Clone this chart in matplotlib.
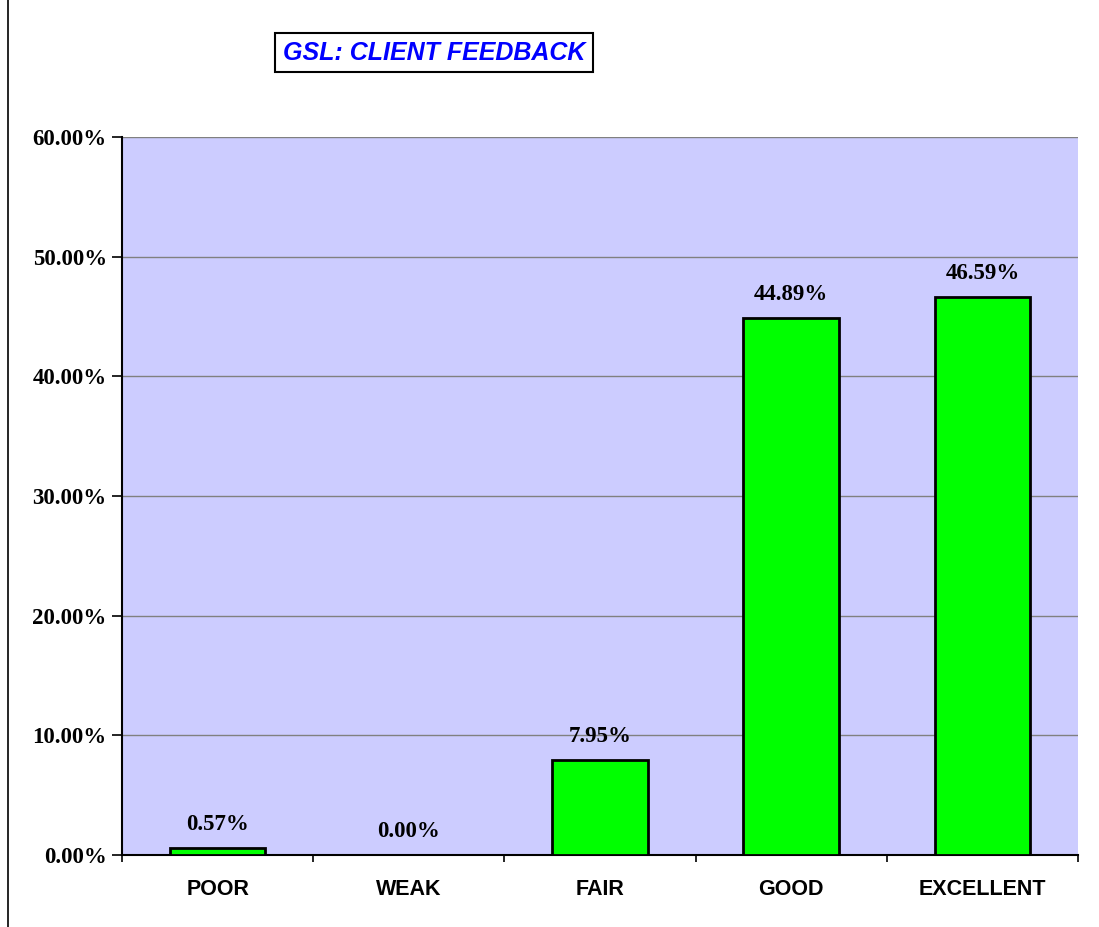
import numpy as np
import matplotlib.pyplot as plt
from matplotlib.ticker import FixedLocator

categories = ['POOR', 'WEAK', 'FAIR', 'GOOD', 'EXCELLENT']
values = [0.57, 0.00, 7.95, 44.89, 46.59]
yticks = [0, 10, 20, 30, 40, 50, 60]

fig = plt.figure(figsize=(10.99, 9.27), dpi=100)
ax = fig.add_axes([0.111, 0.0777, 0.870, 0.7745])
ax.set_facecolor('#CCCCFF')

x = np.arange(len(categories))
ax.bar(x, values, width=0.5, color='#00FF00', edgecolor='black', linewidth=2, zorder=3)

for xi, v in zip(x, values):
    ax.text(xi, v + 1.1, '%.2f%%' % v, ha='center', va='bottom',
            fontsize=16.5, fontweight='bold', family='Liberation Serif', zorder=4)

ax.set_xlim(-0.5, len(categories) - 0.5)
ax.set_ylim(0, 60)
ax.set_yticks(yticks)
ax.set_yticklabels(['%.2f%%' % t for t in yticks], fontsize=16.5,
                   fontweight='bold', family='Liberation Serif')
ax.yaxis.grid(True, color='#808080', linewidth=1, zorder=0)
ax.set_axisbelow(True)

ax.set_xticks(x)
ax.set_xticklabels(categories, fontsize=15.5, fontweight='bold', family='Liberation Sans')
ax.tick_params(axis='x', length=0, pad=17)
ax.xaxis.set_minor_locator(FixedLocator(np.arange(-0.5, len(categories), 1)))
ax.tick_params(axis='x', which='minor', length=5, width=1.2, color='black')
ax.tick_params(axis='y', length=7, width=1.2, pad=4)

for s in ['top', 'right']:
    ax.spines[s].set_visible(False)
ax.spines['left'].set_linewidth(1.5)
ax.spines['bottom'].set_linewidth(1.5)

fig.text(0.395, 0.943, 'GSL: CLIENT FEEDBACK', ha='center', va='center',
         fontsize=18, fontweight='bold', style='italic', color='#0000FF',
         family='Liberation Sans',
         bbox=dict(boxstyle='square,pad=0.3', facecolor='white', edgecolor='black', linewidth=1.5))

fig.add_artist(plt.Line2D([0.0073, 0.0073], [0.0, 1.0], color='black', linewidth=1.2))

fig.savefig('out.png', dpi=100)
